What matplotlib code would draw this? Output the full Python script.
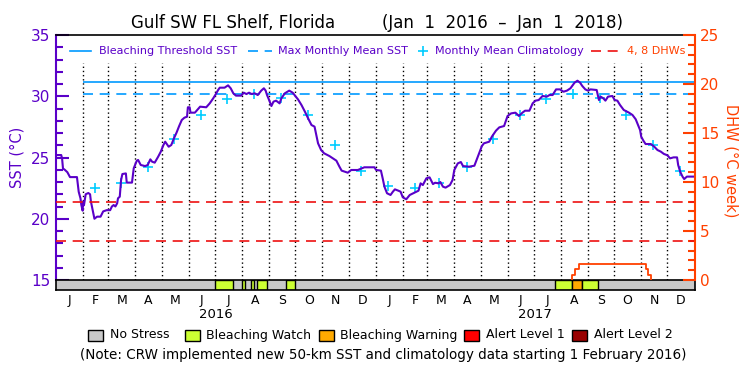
#!/usr/bin/env python3

import numpy as np
import matplotlib
matplotlib.use('Agg')
import matplotlib.pyplot as plt
from matplotlib.lines import Line2D
from matplotlib.patches import Rectangle


# days since Jan 1 2016 and the daily SST (deg C)
sst_days = [0, 6, 7, 8, 10, 13, 16, 24, 25, 26, 28, 29, 30.5, 31, 32, 34, 37, 39, 40, 42,
            44, 47, 51, 54, 58, 62, 64, 66, 68, 70, 71, 73, 74.5, 76, 80, 81, 87, 89, 90.5, 92.5,
            94, 97, 102, 105, 108, 110, 113, 117, 120, 123, 125, 129, 132, 135, 138, 141, 144, 147, 150, 151,
            153, 154, 159, 161, 165, 172, 176, 180, 183, 185.6, 187.5, 193, 197, 200, 203, 206, 212, 215, 218, 221,
            224, 227.5, 231, 235, 238, 240, 241.6, 244, 246.6, 249, 252, 256, 258, 262, 267, 271, 277, 281, 285, 288.6,
            292.5, 296, 298, 300, 303.5, 307, 313, 317, 321, 324.5, 327, 334, 338, 345.6, 353, 364.6, 366.5, 372, 374, 376,
            379, 383, 385.7, 388, 392, 394.5, 397, 401, 405, 410.5, 415, 417.4, 420, 424, 427.7, 431.6, 434, 438, 440, 443,
            446, 451, 454, 456, 460, 463.5, 466, 473, 479, 482.6, 487.6, 490, 496, 499, 503.7, 507.5, 513, 517, 521, 526,
            530, 534, 537, 542, 545.7, 549, 552.6, 557, 562, 565, 568.6, 572.5, 577, 581, 585, 589, 593.7, 597, 600, 602.5,
            606, 609, 612, 619, 621.6, 623.5, 626.6, 629, 632, 637, 639.6, 642.7, 645.7, 650, 656, 660, 663.7, 666.4, 668.7, 670,
            672.5, 675, 681, 685, 688.6, 692.4, 696, 700, 703, 707, 711, 712.3, 714.6, 717.3, 719.2, 722.3, 731]
sst_vals = [25.2, 25.2, 24.9, 24.1, 24.0, 23.8, 23.4, 23.4, 22.76, 22.2, 21.67, 21.12, 20.66, 21.4, 21.1, 22.0, 22.1, 22.0, 21.4, 20.7,
            20.0, 20.17, 20.17, 20.6, 20.7, 20.7, 21.0, 21.12, 21.0, 21.26, 21.67, 21.8, 23.16, 23.65, 23.7, 22.95, 22.95, 24.12, 24.39, 24.74,
            24.8, 24.39, 24.3, 24.39, 24.85, 24.66, 24.58, 25.07, 25.48, 26.02, 26.29, 25.88, 26.02, 26.56, 27.03, 27.57, 28.06, 28.25, 28.33, 29.1,
            29.1, 28.66, 28.66, 28.82, 29.15, 29.1, 29.42, 29.83, 30.18, 30.51, 30.7, 30.7, 30.89, 30.65, 30.24, 30.05, 30.05, 30.29, 30.18, 30.29,
            30.18, 30.24, 30.1, 30.46, 30.65, 30.46, 30.1, 29.69, 29.2, 29.56, 29.64, 29.42, 29.83, 30.24, 30.46, 30.29, 29.75, 29.29, 28.74, 28.2,
            27.65, 27.52, 26.84, 26.16, 25.61, 25.34, 25.12, 24.93, 24.74, 24.25, 23.93, 23.76, 23.98, 23.98, 24.2, 24.2, 23.98, 23.93, 23.3, 22.62,
            22.08, 21.94, 22.21, 22.4, 22.29, 22.21, 21.75, 21.59, 21.94, 22.13, 22.29, 22.89, 22.75, 23.3, 23.38, 22.83, 22.94, 22.89, 23.0, 22.62,
            22.54, 22.75, 23.16, 23.98, 24.52, 24.63, 24.3, 24.25, 24.33, 25.01, 25.94, 26.16, 26.29, 26.7, 27.19, 27.46, 27.57, 28.39, 28.6, 28.66,
            28.39, 28.66, 28.82, 28.82, 29.42, 29.64, 29.69, 30.02, 29.97, 30.1, 30.1, 30.56, 30.56, 30.37, 30.46, 30.65, 31.11, 31.27, 31.11, 30.84,
            30.56, 30.46, 30.56, 30.51, 29.69, 29.97, 29.83, 29.64, 29.97, 30.02, 29.69, 29.64, 29.29, 28.88, 28.66, 28.47, 28.12, 27.65, 27.24, 26.7,
            26.37, 26.1, 26.1, 25.88, 25.61, 25.48, 25.29, 25.18, 24.93, 25.01, 25.01, 24.39, 23.84, 23.44, 23.24, 23.44, 23.44]

# monthly mean climatology, Jan..Dec (deg C)
clim_vals = [22.67, 22.5, 22.9, 24.25, 26.55, 28.47, 29.77, 30.17, 29.87, 28.47, 26.0, 23.9]
mmm = 30.16
threshold = 31.16

# degree heating weeks (step line)
dhw_days = [591, 591, 594, 599, 675, 678, 681]
dhw_vals = [0, 0.5, 1.1, 1.6, 1.1, 0.5, 0]
dhw_levels = [4, 8]

# bleaching alert status bar: (start day, end day, level)
status_spans = [(182, 203, 'watch'), (213, 216, 'watch'), (223.5, 226.5, 'watch'),
                (230.5, 241, 'watch'), (263, 273.5, 'watch'),
                (571, 591, 'watch'), (591, 602, 'warning'), (602, 620, 'watch')]

month_letters = ['J', 'F', 'M', 'A', 'M', 'J', 'J', 'A', 'S', 'O', 'N', 'D']
years = ['2016', '2017']

status_names = ['No Stress', 'Bleaching Watch', 'Bleaching Warning', 'Alert Level 1', 'Alert Level 2']
status_colors = {'none': '#c8c8c8', 'watch': '#ccff33', 'warning': '#ffaa00',
                 'alert1': '#ff0000', 'alert2': '#990000'}

PURPLE = '#5a00c8'
ORANGE = '#ff4000'
BLUE = '#0099ff'
CYAN = '#00ccff'
RED = '#ee1111'

W, H = 750, 375


def fx(px):
    return px / W


def fy(py):
    return 1 - py / H


def main():
    months = np.arange('2016-01', '2018-02', dtype='datetime64[M]')
    starts = (months.astype('datetime64[D]') - np.datetime64('2016-01-01')).astype(int)
    ndays = starts[-1]
    mids = (starts[:-1] + starts[1:]) / 2

    fig = plt.figure(figsize=(7.5, 3.75), dpi=100)
    left, right = 56, 694.5
    ax = fig.add_axes([fx(left), fy(280), fx(right - left), 245 / H])
    axb = fig.add_axes([fx(left), fy(290), fx(right - left), 10 / H])

    ax.set_xlim(0, ndays)
    ax.set_ylim(15, 35)
    ax.set_xticks([])
    ax.set_yticks(range(15, 36, 5))
    ax.set_yticks(range(15, 36), minor=True)
    ax.tick_params(axis='y', which='both', direction='in', colors=PURPLE,
                   labelcolor=PURPLE, width=1.5, labelsize=11, pad=4)
    ax.tick_params(axis='y', which='major', length=9)
    ax.tick_params(axis='y', which='minor', length=5)
    ax.spines['left'].set_color(PURPLE)
    ax.spines['left'].set_linewidth(1.5)
    ax.spines['top'].set_linewidth(1.2)
    ax.spines['right'].set_visible(False)
    ax.spines['bottom'].set_visible(False)

    # month separators
    ax.vlines(starts[1:-1], 15, 32.7, colors='k', linestyles=(0, (1, 2)), linewidth=1)

    # threshold and MMM start with the new climatology (Feb 1 2016)
    ax.hlines(threshold, starts[1], ndays, colors=BLUE, linewidth=1.2)
    ax.hlines(mmm, starts[1], ndays, colors=BLUE, linewidth=1.2, linestyles=(0, (6, 4)))

    clim_x = starts[1:24] + 14
    clim_y = [clim_vals[i % 12] for i in range(1, 24)]
    ax.plot(clim_x, clim_y, '+', color=CYAN, markersize=7.5, markeredgewidth=1.2, zorder=4)
    ax.plot(sst_days, sst_vals, color=PURPLE, linewidth=1.5, zorder=5)

    ax2 = ax.twinx()
    ax2.set_ylim(0, 25)
    ax2.set_xlim(0, ndays)
    ax2.set_yticks(range(0, 26, 5))
    ax2.set_yticks(range(0, 26), minor=True)
    ax2.tick_params(axis='y', which='both', direction='in', colors=ORANGE,
                    labelcolor=ORANGE, width=1.5, labelsize=11, pad=4)
    ax2.tick_params(axis='y', which='major', length=9)
    ax2.tick_params(axis='y', which='minor', length=5)
    for side in ['left', 'top', 'bottom']:
        ax2.spines[side].set_visible(False)
    ax2.spines['right'].set_color(ORANGE)
    ax2.spines['right'].set_linewidth(1.5)
    ax2.hlines(dhw_levels, 0, ndays, colors=RED, linewidth=1.2, linestyles=(0, (6, 4)))
    ax2.plot(dhw_days, dhw_vals, color=ORANGE, linewidth=1.3, drawstyle='steps-post')

    # status bar
    axb.set_xlim(0, ndays)
    axb.set_ylim(0, 1)
    axb.set_facecolor(status_colors['none'])
    for s, e, lvl in status_spans:
        axb.axvspan(s, e, facecolor=status_colors[lvl], edgecolor='k', linewidth=1)
    axb.set_yticks([])
    axb.set_xticks(mids)
    axb.set_xticklabels(month_letters * 2, fontsize=9)
    axb.tick_params(axis='x', length=0, pad=3)
    for sp in axb.spines.values():
        sp.set_linewidth(1.2)
    for i, yr in enumerate(years):
        xd = (starts[12 * i] + starts[12 * i + 12]) / 2
        xp = left + xd / ndays * (right - left)
        fig.text(fx(xp), fy(315), yr, ha='center', va='center', fontsize=9.5)

    # title and axis labels
    fig.text(fx(233.5), fy(23), 'Gulf SW FL Shelf, Florida', ha='center', va='center', fontsize=12)
    fig.text(fx(502.5), fy(23), '(Jan  1  2016  \u2013  Jan  1  2018)', ha='center', va='center',
             fontsize=12)
    fig.text(fx(17), fy(157), 'SST (\u00b0C)', rotation=90, ha='center', va='center',
             fontsize=10.5, color=PURPLE)
    fig.text(fx(731), fy(161), 'DHW (\u00b0C week)', rotation=-90, ha='center', va='center',
             fontsize=10.5, color=ORANGE)

    # top legend
    ly = fy(51)
    fig.add_artist(Line2D([fx(70), fx(91)], [ly, ly], color=BLUE, linewidth=1.2))
    fig.text(fx(98.6), ly, 'Bleaching Threshold SST', va='center', fontsize=8, color=PURPLE)
    fig.add_artist(Line2D([fx(247.6), fx(271.6)], [ly, ly], color=BLUE, linewidth=1.2,
                          linestyle=(0, (6, 4))))
    fig.text(fx(278), ly, 'Max Monthly Mean SST', va='center', fontsize=8, color=PURPLE)
    fig.add_artist(Line2D([fx(423)], [ly], marker='+', color=CYAN, markersize=7.5,
                          markeredgewidth=1.2, linestyle='none'))
    fig.text(fx(435), ly, 'Monthly Mean Climatology', va='center', fontsize=8, color=PURPLE)
    fig.add_artist(Line2D([fx(591), fx(620)], [ly, ly], color=RED, linewidth=1.2,
                          linestyle=(0, (6, 4))))
    fig.text(fx(627), ly, '4, 8 DHWs', va='center', fontsize=8, color=ORANGE)

    # status legend
    box_x = [88, 185, 319, 464, 572]
    keys = ['none', 'watch', 'warning', 'alert1', 'alert2']
    for bx, key, name in zip(box_x, keys, status_names):
        fig.add_artist(Rectangle((fx(bx), fy(340.5)), 15 / W, 11 / H, transform=fig.transFigure,
                                 facecolor=status_colors[key], edgecolor='k', linewidth=1))
        fig.text(fx(bx + 21.5), fy(335), name, va='center', fontsize=9)

    fig.text(fx(383), fy(355),
             '(Note: CRW implemented new 50-km SST and climatology data starting 1 February 2016)',
             ha='center', va='center', fontsize=9.75)

    fig.savefig('out.png', dpi=100)


if __name__ == '__main__':
    main()
